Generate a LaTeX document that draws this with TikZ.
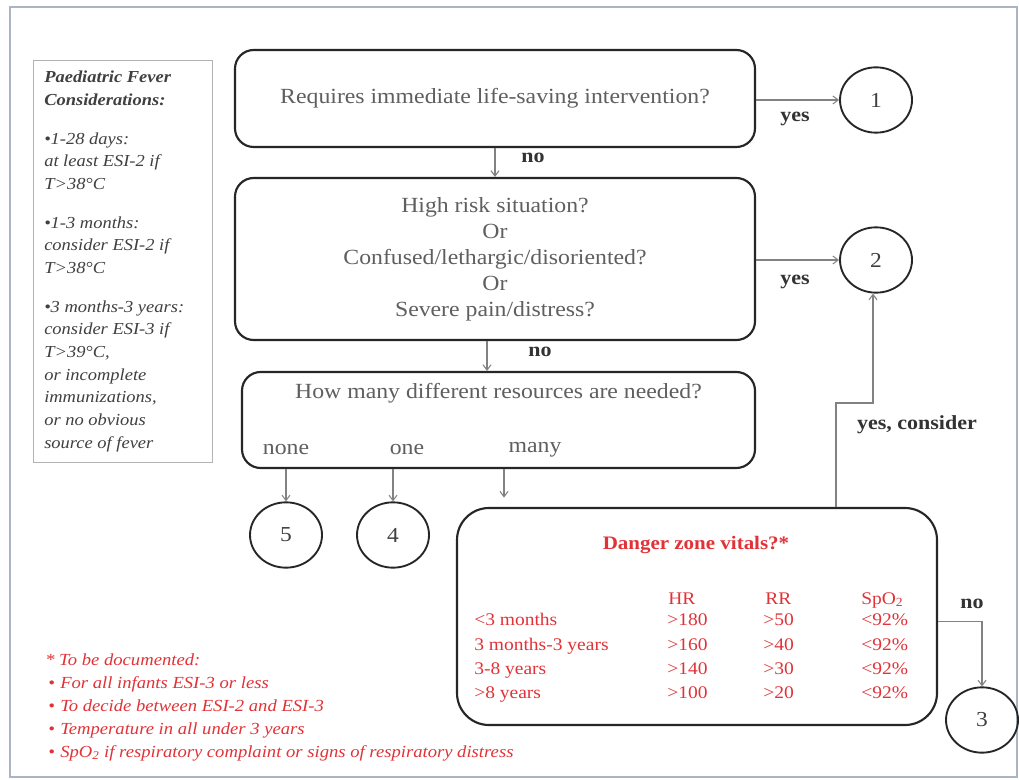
\documentclass[tikz,border=0pt]{standalone}
\usepackage{fontspec}
\setmainfont{Liberation Serif}[FakeStretch=1.1]
\usetikzlibrary{shapes.geometric,arrows.meta}
\definecolor{framec}{RGB}{170,180,195}
\definecolor{txtc}{RGB}{95,95,95}
\definecolor{dzred}{RGB}{225,50,55}
\definecolor{connc}{RGB}{130,130,130}
\tikzset{
  box/.style={draw=black!85, line width=1.6pt, rounded corners=14pt, inner sep=0pt},
  num/.style={draw=black!85, line width=1.4pt, ellipse, minimum width=54pt, minimum height=49pt, inner sep=0pt, font=\fontsize{16}{18}\selectfont, text=black!75},
  conn/.style={draw=connc, line width=0.8pt, -{Straight Barb[length=4pt,width=6pt]}},
  lbl/.style={font=\bfseries\fontsize{15}{17}\selectfont, text=black!80, inner sep=1pt},
  maintxt/.style={font=\fontsize{16.2}{19.5}\selectfont, text=txtc, align=center},
  cell/.style={font=\fontsize{13.3}{15}\selectfont, text=dzred, anchor=base west, inner sep=0pt},
  fn/.style={font=\itshape\fontsize{12.7}{15}\selectfont, text=dzred, anchor=base west, inner sep=0pt}
}
\begin{document}
\begin{tikzpicture}[x=0.75pt,y=-0.75pt]
\useasboundingbox (0,0) rectangle (1019,780);
\fill[white] (0,0) rectangle (1019,780);
\draw[framec, line width=1.8pt] (10,7) rectangle (1017,777);

% left info box
\node[draw=black!30, line width=0.6pt, minimum width=134.25pt, minimum height=301.5pt, inner sep=0pt] (pf) at (122.5,261) {};
\node[anchor=north west, align=left, inner sep=0pt, font=\itshape\fontsize{12.6}{17}\selectfont, text=black!75] (pft) at (44,71)
  {\textbf{Paediatric Fever}\\\textbf{Considerations:}\\[12pt]
   •1-28 days:\\at least ESI-2 if\\T>38°C\\[12pt]
   •1-3 months:\\consider ESI-2 if\\T>38°C\\[12pt]
   •3 months-3 years:\\consider ESI-3 if\\T>39°C,\\or incomplete\\immunizations,\\or no obvious\\source of fever};

% main boxes
\node[box, maintxt, minimum width=390pt, minimum height=72.75pt] (b1) at (495,98.5) {Requires immediate life-saving intervention?};
\node[box, maintxt, minimum width=390pt, minimum height=121.5pt] (b2) at (495,259)
  {High risk situation?\\Or\\Confused/lethargic/disoriented?\\Or\\Severe pain/distress?};
\node[box, minimum width=384.75pt, minimum height=72pt] (b3) at (498.5,420) {};
\node[maintxt] (q3) at (498.5,393) {How many different resources are needed?};
\node[maintxt] (none) at (286,450) {none};
\node[maintxt] (one) at (407,450) {one};
\node[maintxt] (many) at (535,450) {many};

\node[box, rounded corners=24pt, minimum width=360pt, minimum height=162.75pt] (dz) at (697,616.5) {};

% circles
\node[num] (c1) at (876,100) {1};
\node[num] (c2) at (876,260) {2};
\node[num] (c5) at (286,535) {5};
\node[num] (c4) at (393,535) {4};
\node[num] (c3) at (982,720) {3};

% connectors
\draw[conn] (c1.west -| b1.east) -- (c1.west);
\node[lbl] (y1) at (795,119) {yes};
\draw[conn] (b1.south) -- (b2.north);
\node[lbl] (n1) at (533,158) {no};
\draw[conn] (c2.west -| b2.east) -- (c2.west);
\node[lbl] (y2) at (795,282) {yes};
\draw[conn] ([xshift=-6pt]b2.south) -- ([xshift=-6pt]b2.south |- b3.north);
\node[lbl] (n2) at (540,352) {no};
\draw[conn] (c5.north |- b3.south) -- (c5.north);
\draw[conn] (c4.north |- b3.south) -- (c4.north);
\coordinate (m) at (504,0);
\draw[conn, shorten >=7pt] (m |- b3.south) -- (m |- dz.north);
\coordinate (j1) at (836,403);
\coordinate (j2) at (873,403);
\draw[conn] (j1 |- dz.north) -- (j1) -- (j2) -- (j2 |- c2.south);
\node[lbl] (yc) at (917,425) {yes, consider};
\draw[conn] ([yshift=-4pt]dz.east) -| (c3.north);
\node[lbl] (n3) at (972,604) {no};

% danger zone contents
\node[font=\bfseries\fontsize{14.3}{16}\selectfont, text=dzred] (dt) at (696,545) {Danger zone vitals?*};
\node[cell] (hhr) at (668,604) {HR};
\node[cell] (hrr) at (765,604) {RR};
\node[cell] (hsp) at (861,604) {SpO\textsubscript{2}};
\node[cell] (r1) at (474,625) {<3 months};
\node[cell] (r2) at (474,650) {3 months-3 years};
\node[cell] (r3) at (474,674) {3-8 years};
\node[cell] (r4) at (474,698) {>8 years};
\node[cell] (h1) at (667,625) {>180};
\node[cell] (h2) at (667,650) {>160};
\node[cell] (h3) at (667,674) {>140};
\node[cell] (h4) at (667,698) {>100};
\node[cell] (q1) at (763,625) {>50};
\node[cell] (q2) at (763,650) {>40};
\node[cell] (q3r) at (763,674) {>30};
\node[cell] (q4) at (763,698) {>20};
\node[cell] (s1) at (861,625) {<92\%};
\node[cell] (s2) at (861,650) {<92\%};
\node[cell] (s3) at (861,674) {<92\%};
\node[cell] (s4) at (861,698) {<92\%};

% footnote
\node[fn] (f0) at (45,665) {* To be documented:};
\node[fn] (fb1) at (48,688) {•};
\node[fn] (ft1) at (60,688) {For all infants ESI-3 or less};
\node[fn] (fb2) at (48,711) {•};
\node[fn] (ft2) at (60,711) {To decide between ESI-2 and ESI-3};
\node[fn] (fb3) at (48,734) {•};
\node[fn] (ft3) at (60,734) {Temperature in all under 3 years};
\node[fn] (fb4) at (48,757) {•};
\node[fn] (ft4) at (60,757) {SpO\textsubscript{2} if respiratory complaint or signs of respiratory distress};
\end{tikzpicture}
\end{document}
